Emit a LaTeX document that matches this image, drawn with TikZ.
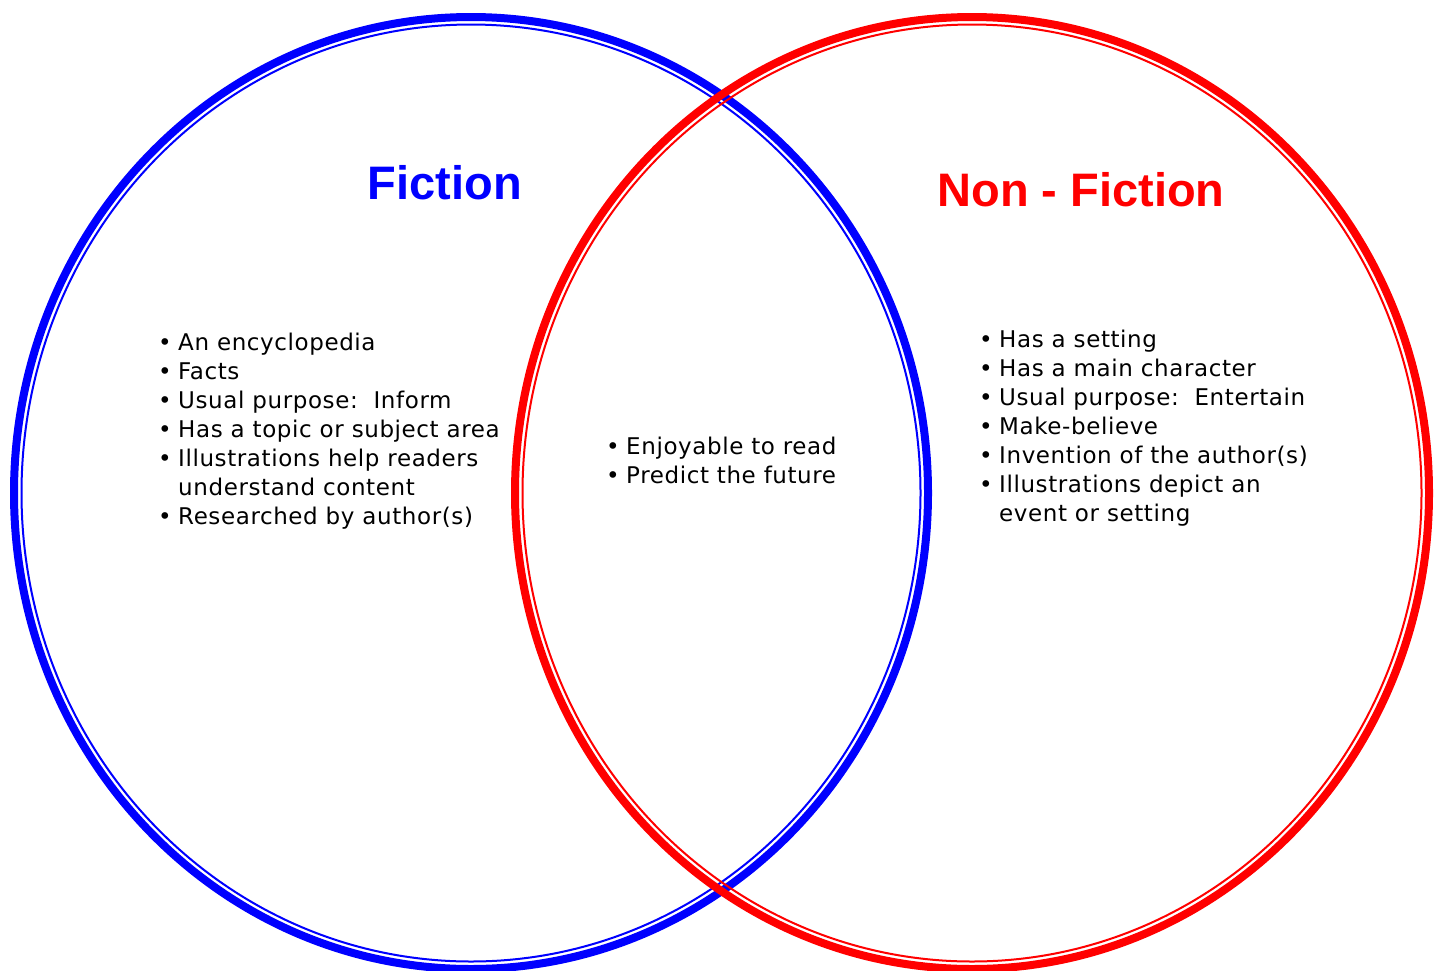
\documentclass[tikz,border=0pt]{standalone}
\usepackage{fontspec}
\setmainfont{DejaVu Sans}
\newfontfamily\listfont[LetterSpace=2.6]{DejaVu Sans}
\newfontfamily\titlefont{Liberation Sans}
\definecolor{vblue}{RGB}{0,0,255}
\definecolor{vred}{RGB}{255,0,0}
\tikzset{
  thickring/.style={line width=8pt},
  thinring/.style={line width=2pt},
  titletext/.style={font=\titlefont\fontsize{47}{50}\selectfont\bfseries, inner sep=0pt},
  listtext/.style={font=\listfont\fontsize{23}{29}\selectfont, inner sep=0pt, anchor=west, align=left},
}
\newcommand{\bl}{\makebox[20pt][l]{•}}
\begin{document}
\begin{tikzpicture}[x=1pt,y=-1pt]
\useasboundingbox (0,0) rectangle (1437,970);
% blue circle
\draw[vblue, thickring] (471,493) ellipse [x radius=457, y radius=476];
\draw[vblue, thinring] (471,493) ellipse [x radius=449.5, y radius=468.5];
% red circle
\draw[vred, thickring] (972,493) ellipse [x radius=457, y radius=476];
\draw[vred, thinring] (972,493) ellipse [x radius=449.5, y radius=468.5];
% titles
\node[titletext, text=vblue] (fic) at (445,183) {Fiction};
\node[titletext, text=vred] (nonfic) at (1081,190) {Non - Fiction};
% lists
\node[listtext] (left) at (158,432) {%
\begin{tabular}{@{}l@{}l@{}}
\bl & An encyclopedia\\
\bl & Facts\\
\bl & Usual purpose:\ \ Inform\\
\bl & Has a topic or subject area\\
\bl & Illustrations help readers\\
 & understand content\\
\bl & Researched by author(s)
\end{tabular}};
\node[listtext] (mid) at (606,463) {%
\begin{tabular}{@{}l@{}l@{}}
\bl & Enjoyable to read\\
\bl & Predict the future
\end{tabular}};
\node[listtext] (right) at (979,429) {%
\begin{tabular}{@{}l@{}l@{}}
\bl & Has a setting\\
\bl & Has a main character\\
\bl & Usual purpose:\ \ Entertain\\
\bl & Make-believe\\
\bl & Invention of the author(s)\\
\bl & Illustrations depict an\\
 & event or setting
\end{tabular}};
\end{tikzpicture}
\end{document}
